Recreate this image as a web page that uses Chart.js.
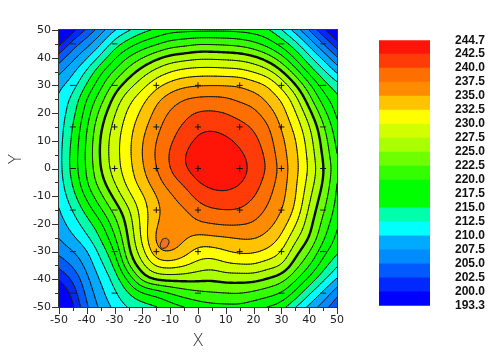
<!DOCTYPE html>
<html>
<head>
<meta charset="utf-8">
<style>
html,body{margin:0;padding:0;background:#fff}
#wrap{position:relative;width:490px;height:352px;overflow:hidden}
#map{position:absolute;left:0;top:0}
#bar{position:absolute;left:379px;top:16px}
</style>
<script src="https://cdn.jsdelivr.net/npm/chart.js@4"></script>
</head>
<body>
<div id="wrap">
<canvas id="map" width="490" height="352"></canvas>
<canvas id="bar" width="111" height="314"></canvas>
</div>
<script>
const xVals=[-50,-45,-40,-35,-30,-25,-20,-15,-10,-5,0,5,10,15,20,25,30,35,40,45,50]
const yVals=[50,45,40,35,30,25,20,15,10,5,0,-5,-10,-15,-20,-25,-30,-35,-40,-45,-50]
// z per row, top row first
const zRows=[
[194,199.4,203,206.4,210,212.3,214.2,215.5,216.6,216.9,217,217.1,217.1,216.9,216.4,215.6,212.8,209,205,200.5,197],
[199.6,204,206.6,209.7,213.9,216.3,218.3,219.5,221.2,221.6,222.5,222.3,222.1,221.7,220.6,218.8,216.6,213.6,209.3,205,200.8],
[203.7,206.9,209.7,213.2,217.3,220.4,222.5,224.6,226,226.5,227.1,227.1,226.9,226.7,225.8,224,220.9,217,213.3,209.5,205.3],
[207,209.6,212.8,217.2,220.4,223.6,226.3,228.4,230,231,231.3,231.3,231.1,230.9,229.9,228.5,225.6,221.2,216.4,213.3,209.5],
[209.5,211.2,215.4,219.3,223.6,226.6,229.2,231.9,233.7,234.6,235,235.1,235.1,235.1,233.8,232.8,229.4,225.6,220.7,216.2,213.8],
[210.5,213.2,217.7,221.5,226,229.3,231.8,234.6,236.3,237.7,238.1,238.2,238,237,236.5,234.5,232.6,228.7,223.5,218.6,215.8],
[211,214,218.8,223.5,227.4,230.7,233.1,235.8,238,239.3,240.4,240.5,240.1,239.2,238.3,236.3,233.8,230.4,226,221,216.9],
[211.3,215,219.8,224.8,228.4,231.5,234.2,236.8,239,240.4,241.9,242.2,241.6,240.8,239.9,238,234.8,231.8,227.9,223,218.3],
[211.5,215.5,220.3,225.5,229,231.9,235,237.6,239.7,241.4,243.2,243.7,243.1,241.9,240.8,238.8,235.6,232.9,228.8,224,219.3],
[211.7,216,220.5,225.6,229,231.9,235.2,237.9,240.4,242.5,244.2,244.7,244.5,243,241.6,239.5,236,233.3,229.3,224.6,220.1],
[211.6,216.1,220.3,225.2,228.9,231.6,234.8,237.5,240.2,242.4,243.9,244.5,244.6,243.6,241.9,240,236.6,233.4,229.8,225.3,220.7],
[211.3,215.3,220,224,227.7,231,233.9,236.5,238.9,240.4,242.7,243.2,243.4,242.9,241.4,239,236.3,233.1,229,225,220],
[210.7,214.1,218.2,222,225.7,229.4,232.1,235,237,238.7,240.8,242,242.1,241.5,240.3,238.1,235.8,233,228,223.9,219.6],
[209.9,212.5,216,219.6,223.4,227,231.3,234.3,236.5,237,239,239.7,240,240,238.8,237.2,235.3,232.3,226.9,222.9,219],
[208.9,211.2,213.8,216.8,221.4,226,231,235,236.6,236.1,237.3,237.6,238,237.8,237.4,236,234,230.4,226,221.7,218],
[207.7,209.6,212,215.1,219.5,225.4,230.7,236.2,236.8,235.5,234.1,234.6,234.7,235.1,235.4,234.3,232.4,228,225.3,220.4,216.9],
[205.8,207.3,209.6,213.3,217.1,225,229,235.3,235.7,233.8,231.4,231.4,232.4,233.2,233,232.2,230.2,225.9,222.9,218.2,215.7],
[203.2,205.3,208.2,211.9,214.9,222.9,227,230.8,231.3,230.5,228.9,228.2,229.5,229.7,230,228.5,228,223.6,220.3,216.2,212.8],
[200.2,202.7,207,210.3,213.3,217.8,224,225.7,225.7,225.6,225.6,225.2,225.9,225.7,225.8,224.8,223.5,220.5,217,212.9,209.9],
[197,201,205.8,209.3,212,214.9,217,218,219.8,221.2,221.9,222.3,222.4,222.7,222,221,220.1,217,212.6,209.5,205.7],
[193.3,199.8,204.9,208.2,210.7,212.8,214,214.8,216.4,217.5,218.6,219.2,219.3,219.4,218.4,217.5,216.4,212.5,209.4,206.3,203]
]
const levels=[200,202.5,205,207.5,210,212.5,215,217.5,220,222.5,225,227.5,230,232.5,235,237.5,240,242.5]
const legendLabels=["244.7","242.5","240.0","237.5","235.0","232.5","230.0","227.5","225.0","222.5","220.0","217.5","215.0","212.5","210.0","207.5","205.0","202.5","200.0","193.3"]
// top band first, same order as the legend
const bandColors=["#ff1408","#ff3c08","#ff6e00","#ff8c00","#ffc300","#ffff00","#d2ff00","#aaff00","#6eff00","#32ff00","#00ff00","#00ff00","#00ffaa","#00ffff","#00aaff","#008cff","#005aff","#0028ff","#0000ff"]
const plusX=[-15,0,15,30,-30,-15,0,15,30,-30,-15,0,15,30,45,-15,0,15,30,-15,0,15,30]
const plusY=[30,30,30,30,15,15,15,15,15,0,0,0,0,0,0,-15,-15,-15,-15,-30,-30,-30,-30]
const dashX=[-45,-30,30,45,-45,-30,45,-45,45,-45,-45,-30,45,-45,-30,45,-45,-30,0,30,45]
const dashY=[45,45,45,45,30,30,30,15,15,0,-15,-15,-15,-30,-30,-30,-45,-45,-45,-45,-45]
// little closed 237.5 contour near (-12,-27)
const pocketX=[-12.8,-11.3,-10.4,-11.3,-13.1,-13.6,-12.8]
const pocketY=[-25.5,-25.2,-26.4,-28.4,-28.8,-27.6,-25.5]

const toRgb=(h)=>[parseInt(h.slice(1,3),16),parseInt(h.slice(3,5),16),parseInt(h.slice(5,7),16)]
const bandsUp=bandColors.slice().reverse()
const rgbUp=bandsUp.map(toRgb)

// cubic b-spline, keeps the contours from wobbling between nodes
const bs=(a,b,c,d,t)=>{
  const u=1-t
  return (u*u*u*a+(3*t*t*t-6*t*t+4)*b+(-3*t*t*t+3*t*t+3*t+1)*c+t*t*t*d)/6
}
const at=(r,c)=>{
  // mirrored edge so the border values stay about where they were read
  const rr=r<0?2*zRows[0][Math.max(0,Math.min(20,c))]-zRows[-r][Math.max(0,Math.min(20,c))]:r>20?2*zRows[20][Math.max(0,Math.min(20,c))]-zRows[40-r][Math.max(0,Math.min(20,c))]:null
  if(rr!==null)return rr
  if(c<0)return 2*zRows[r][0]-zRows[r][-c]
  if(c>20)return 2*zRows[r][20]-zRows[r][40-c]
  return zRows[r][c]
}
function zAt(x,y){
  const fc=(x+50)/5, fr=(50-y)/5
  const c=Math.min(19,Math.floor(fc)), r=Math.min(19,Math.floor(fr))
  const tc=fc-c, tr=fr-r
  const rows=[]
  for(let i=-1;i<3;i++){
    rows.push(bs(at(r+i,c-1),at(r+i,c),at(r+i,c+1),at(r+i,c+2),tc))
  }
  return bs(rows[0],rows[1],rows[2],rows[3],tr)
}
function bandOf(z){
  let b=0
  while(b<levels.length&&z>=levels[b])b++
  return b
}

const contourPlugin={
  id:"contour",
  beforeDatasetsDraw(chart){
    const {ctx,chartArea:a,scales}=chart
    const sx=scales.x, sy=scales.y
    const w=Math.round(a.right-a.left), h=Math.round(a.bottom-a.top)
    const img=ctx.createImageData(w,h)
    for(let j=0;j<h;j++){
      const yv=sy.getValueForPixel(a.top+j+0.5)
      for(let i=0;i<w;i++){
        const xv=sx.getValueForPixel(a.left+i+0.5)
        const col=rgbUp[bandOf(zAt(xv,yv))]
        const k=(j*w+i)*4
        img.data[k]=col[0];img.data[k+1]=col[1];img.data[k+2]=col[2];img.data[k+3]=255
      }
    }
    ctx.putImageData(img,Math.round(a.left),Math.round(a.top))
    // contour lines, marching squares on a finer grid
    const n=120, step=100/n
    const fine=[]
    for(let r=0;r<=n;r++){
      const row=[]
      for(let c=0;c<=n;c++)row.push(zAt(-50+c*step,50-r*step))
      fine.push(row)
    }
    ctx.save()
    ctx.beginPath();ctx.rect(a.left,a.top,a.right-a.left,a.bottom-a.top);ctx.clip()
    ctx.lineCap="round"
    levels.forEach((lv)=>{
      ctx.beginPath()
      for(let r=0;r<n;r++){
        for(let c=0;c<n;c++){
          const z=[fine[r][c],fine[r][c+1],fine[r+1][c+1],fine[r+1][c]]
          const xs=[c,c+1,c+1,c], ys=[r,r,r+1,r+1]
          const pts=[]
          for(let e=0;e<4;e++){
            const f=(e+1)%4
            if((z[e]>=lv)!==(z[f]>=lv)){
              const t=(lv-z[e])/(z[f]-z[e])
              pts.push([-50+(xs[e]+(xs[f]-xs[e])*t)*step,50-(ys[e]+(ys[f]-ys[e])*t)*step])
            }
          }
          for(let p=0;p+1<pts.length;p+=2){
            ctx.moveTo(sx.getPixelForValue(pts[p][0]),sy.getPixelForValue(pts[p][1]))
            ctx.lineTo(sx.getPixelForValue(pts[p+1][0]),sy.getPixelForValue(pts[p+1][1]))
          }
        }
      }
      ctx.lineWidth=lv===225?2.4:1
      ctx.strokeStyle=lv===225?"#0a0a0a":"#1c1c1c"
      ctx.stroke()
    })
    ctx.restore()
  },
  afterDraw(chart){
    const {ctx,chartArea:a,scales}=chart
    ctx.save()
    ctx.strokeStyle="#333"
    ctx.lineWidth=1
    ctx.strokeRect(a.left-0.5,a.top-0.5,a.right-a.left+1,a.bottom-a.top+1)
    ctx.beginPath()
    scales.x.ticks.forEach((t)=>{
      const p=Math.round(scales.x.getPixelForValue(t.value))+0.5
      ctx.moveTo(p,a.bottom);ctx.lineTo(p,a.bottom+(t.value%10===0?7:4))
    })
    scales.y.ticks.forEach((t)=>{
      const p=Math.round(scales.y.getPixelForValue(t.value))+0.5
      ctx.moveTo(a.left,p);ctx.lineTo(a.left-(t.value%10===0?7:4),p)
    })
    ctx.stroke()
    // Y sits a bit above the middle of the axis in the original
    ctx.translate(17,159)
    ctx.rotate(-Math.PI/2)
    ctx.fillStyle="#333"
    ctx.font='200 17px "DejaVu Sans"'
    ctx.textAlign="center"
    ctx.textBaseline="middle"
    ctx.fillText("Y",0,0)
    ctx.restore()
  }
}

const tickLabel=(v)=>v%10===0?String(v):""
new Chart(document.getElementById("map"),{
  type:"scatter",
  data:{datasets:[
    {data:pocketX.map((x,i)=>({x:x,y:pocketY[i]})),showLine:true,fill:"shape",backgroundColor:"#f0702a",borderColor:"#1c1c1c",borderWidth:1,pointRadius:0,tension:0.3},
    {data:plusX.map((x,i)=>({x:x,y:plusY[i]})),pointStyle:"cross",pointRadius:3,borderColor:"#111",borderWidth:1,showLine:false},
    {data:dashX.map((x,i)=>({x:x,y:dashY[i]})),pointStyle:"line",pointRadius:3,borderColor:"#222",borderWidth:1,showLine:false}
  ]},
  options:{
    responsive:false,animation:false,
    layout:{padding:{left:0,top:30,right:153,bottom:0}},
    plugins:{legend:{display:false},tooltip:{enabled:false}},
    scales:{
      x:{type:"linear",min:-50,max:50,
        afterFit(s){s.height=45},
        grid:{drawOnChartArea:false,drawTicks:false},border:{display:false},
        ticks:{stepSize:5,autoSkip:false,maxRotation:0,padding:7,color:"#222",font:{family:"DejaVu Sans",size:11},callback:tickLabel},
        title:{display:true,text:"X",color:"#333",padding:{top:4,bottom:0},font:{family:"DejaVu Sans",size:17,weight:"200"}}},
      y:{type:"linear",min:-50,max:50,
        afterFit(s){s.width=59},
        grid:{drawOnChartArea:false,drawTicks:false},border:{display:false},
        ticks:{stepSize:5,autoSkip:false,padding:8,color:"#222",font:{family:"DejaVu Sans",size:11},callback:tickLabel}}
    }
  },
  plugins:[contourPlugin]
})

new Chart(document.getElementById("bar"),{
  type:"bar",
  data:{labels:["z"],datasets:bandsUp.map((c)=>({data:[1],backgroundColor:c,barPercentage:1,categoryPercentage:1,stack:"s"}))},
  options:{
    responsive:false,animation:false,
    plugins:{legend:{display:false},tooltip:{enabled:false}},
    scales:{
      x:{display:false,stacked:true},
      y:{position:"right",stacked:true,min:0,max:19,
        afterFit(s){s.width=60},
        grid:{display:false},border:{display:false},
        ticks:{stepSize:1,autoSkip:false,padding:17,color:"#111",font:{family:"Liberation Sans",size:12,weight:"bold"},callback:(v)=>legendLabels[19-v]}}
    }
  }
})
</script>
</body>
</html>
